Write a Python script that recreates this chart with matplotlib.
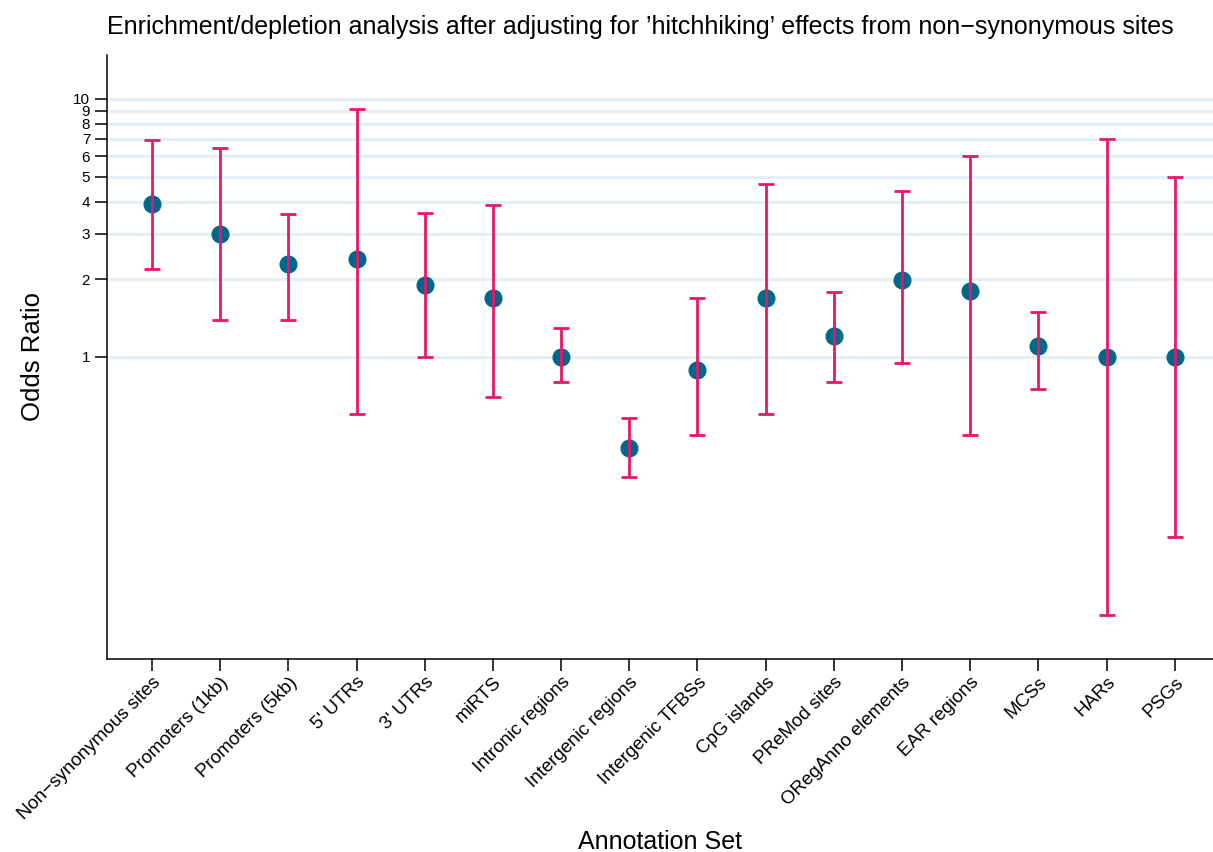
import numpy as np
import matplotlib.pyplot as plt
from matplotlib.ticker import FixedLocator, NullLocator

plt.rcParams['font.family'] = ['Liberation Sans', 'DejaVu Sans']

sets = ["Non\u2212synonymous sites", "Promoters (1kb)", "Promoters (5kb)",
        "5' UTRs", "3' UTRs", "miRTS", "Intronic regions", "Intergenic regions",
        "Intergenic TFBSs", "CpG islands", "PReMod sites", "ORegAnno elements",
        "EAR regions", "MCSs", "HARs", "PSGs"]
odds = [3.9, 3.0, 2.29, 2.4, 1.9, 1.69, 1.0, 0.444, 0.89, 1.69, 1.2, 1.99,
        1.8, 1.1, 1.0, 1.0]
lower = [2.19, 1.39, 1.39, 0.60, 1.0, 0.70, 0.80, 0.343, 0.50, 0.60, 0.80,
         0.95, 0.50, 0.75, 0.10, 0.20]
upper = [6.93, 6.46, 3.58, 9.15, 3.61, 3.88, 1.30, 0.58, 1.69, 4.68, 1.79,
         4.40, 6.01, 1.49, 7.0, 4.99]
yticks = [1, 2, 3, 4, 5, 6, 7, 8, 9, 10]


def main():
  fig = plt.figure(figsize=(12.13, 8.52), dpi=100)
  ax = fig.add_axes([0.0882, 0.2265, 0.9118, 0.709])

  x = np.arange(len(sets))
  odds_a = np.array(odds)
  yerr = [odds_a - np.array(lower), np.array(upper) - odds_a]

  ax.set_yscale('log')
  for t in yticks:
    ax.axhline(t, color='#e3f1f6', lw=2.2, zorder=0)

  ax.plot(x, odds_a, 'o', color='#00688b', ms=12, zorder=2)
  ax.errorbar(x, odds_a, yerr=yerr, fmt='none', ecolor='#e8176b',
              elinewidth=2.0, capsize=6, capthick=2.0, zorder=3)

  ax.set_ylim(0.0675, 14.8)
  ax.set_xlim(-0.66, len(sets) - 1 + 0.56)
  ax.yaxis.set_major_locator(FixedLocator(yticks))
  ax.yaxis.set_minor_locator(NullLocator())
  ax.set_yticklabels([str(t) for t in yticks], fontsize=11)
  ax.set_xticks(x)
  ax.set_xticklabels(sets, rotation=45, ha='right', rotation_mode='anchor',
                     fontsize=13.5)
  ax.tick_params(axis='both', length=8.6, width=1.1, color='black')
  ax.tick_params(axis='x', pad=2)

  for s in ['top', 'right']:
    ax.spines[s].set_visible(False)
  for s in ['left', 'bottom']:
    ax.spines[s].set_linewidth(1.1)

  fig.text(640 / 1213, 1 - 27 / 852,
           "Enrichment/depletion analysis after adjusting for \u2019hitchhiking\u2019 "
           "effects from non\u2212synonymous sites", fontsize=18,
           ha='center', va='center')
  ax.set_ylabel("Odds Ratio", fontsize=18.5, labelpad=20)
  ax.set_xlabel("Annotation Set", fontsize=18)
  ax.xaxis.set_label_coords(0.5, -0.283)

  fig.savefig("out.png")
  plt.close()


if __name__ == "__main__":
  main()
